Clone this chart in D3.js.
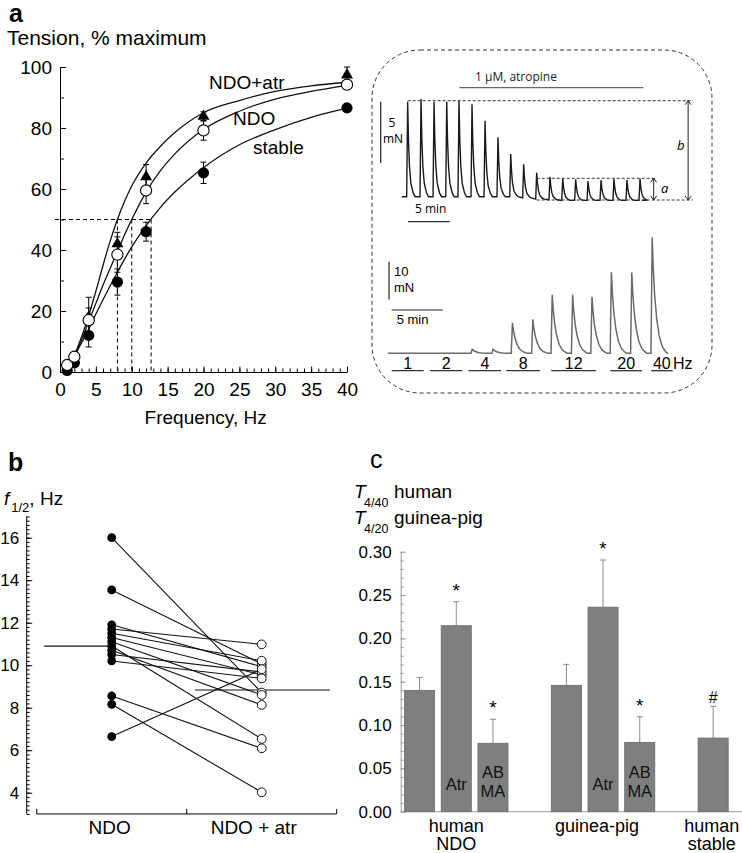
<!DOCTYPE html>
<html><head><meta charset="utf-8">
<script src="https://cdn.jsdelivr.net/npm/d3@7"></script>
<style>
body{margin:0;background:#fff}
svg{display:block;font-family:"Liberation Sans",Arial,sans-serif}
</style></head><body>
<svg id="chart" width="742" height="853"></svg>
<script>
// ================= DATA =================
// Panel a: tension-frequency
const freqs = [1, 2, 4, 8, 12, 20, 40];
const stableVals = [0.5, 3, 12, 29.5, 46, 65.3, 86.6];
const stableErr  = [0, 0, 3.8, 4.3, 3.1, 3.5, 0];
const ndoVals    = [2.3, 5, 17, 38.5, 59.5, 79.2, 94.2];
const ndoErr     = [0, 0, 4, 5.8, 4.3, 3.2, 0];
const atrVals    = [0.8, 3.8, 18, 42, 64, 83.8, 97.4];
const atrErr     = [0, 0, 6.5, 3.8, 4, 1.5, 2.6];
const curveFreqs  = [0.5, 1, 2, 3, 4, 5, 6, 7, 8, 9, 10, 12, 14, 16, 20, 25, 30, 35, 40];
const atrCurve    = [0.3, 1.5, 5.5, 11.5, 18.5, 26.5, 35, 43, 50, 56, 61, 68.5, 74, 78.5, 85, 89, 92, 93.8, 95];
const ndoCurve    = [0.3, 1.5, 5, 10.5, 16.5, 22.5, 28.5, 34, 39.5, 45, 50, 59, 66, 71.5, 79.5, 85.5, 89.5, 92, 94];
const stableCurve = [0.2, 1.9, 5.3, 9.5, 14, 19, 23.7, 28.3, 32.7, 37, 41, 48, 54, 59, 67, 74.5, 79.5, 83.5, 86.5];
const halfFreqs = [8, 10, 12.7];
const curveNames = ["NDO+atr", "NDO", "stable"];
const xTicksA = [0, 5, 10, 15, 20, 25, 30, 35, 40];
const yTicksA = [0, 20, 40, 60, 80, 100];

// Inset top trace (minutes, mN)
const topPeakTimes  = [0.71, 2.30, 3.85, 5.36, 6.82, 8.37, 9.92, 11.46, 12.98, 14.52, 16.07, 17.65, 19.17, 20.71, 22.18, 23.73, 25.27, 26.82, 28.37];
const topPeakLevels = [7.75, 7.97, 7.75, 7.75, 7.83, 7.53, 6.2, 4.84, 3.48, 2.64, 1.96, 1.63, 1.50, 1.42, 1.28, 1.36, 1.44, 1.36, 1.47];
const topBaseLevels = [0, 0, 0, 0, 0, 0, 0, 0, 0, -0.1, -0.2, -0.25, -0.3, -0.3, -0.3, -0.3, -0.3, -0.3, -0.3];
const topTraceEnd = 28.57;
const atropineSpan = [6.86, 28.76];
const levelA = [-0.27, 1.5, 16.07, 30.15];   // bottom, top, from, to
const levelB = [-0.27, 7.83, 0.71, 34.68];
// Inset bottom trace
const botPeakTimes = [8.26, 10.3, 12.2, 14.2, 16.1, 18.1, 20.0, 21.9, 23.9, 25.9];
const botPeakAmps  = [1.1, 1.1, 8.1, 9.0, 15.5, 15.5, 15.0, 21.5, 21.4, 30.8];
const botTraceEnd = 27.3;
const stimLabels = ["1", "2", "4", "8", "12", "20", "40"];
const stimSpans  = [[0.36, 3.5], [4.1, 7.3], [7.9, 11.1], [11.6, 14.9], [16.0, 20.4], [21.8, 24.9], [25.8, 27.9]];

// Panel b: f1/2 pairs
const conditionsB = ["NDO", "NDO + atr"];
const ndoF1_2 = [16.0, 13.54, 11.9, 11.7, 11.5, 11.3, 11.1, 10.9, 10.7, 10.5, 10.2, 8.55, 8.16, 6.64];
const atrF1_2 = [8.71, 10.06, 9.93, 10.98, 10.21, 9.54, 8.60, 6.53, 8.13, 9.68, 9.38, 6.09, 4.02, 9.81];
const meansB = [10.9, 8.83];
const yTicksB = [4, 6, 8, 10, 12, 14, 16];

// Panel c: bars
const barSlots  = [0, 1, 2, 4, 5, 6, 8];
const barVals   = [0.140, 0.2146, 0.079, 0.1458, 0.236, 0.080, 0.085];
const barErrs   = [0.015, 0.0277, 0.0276, 0.0242, 0.0544, 0.0296, 0.0366];
const barInner  = ["", "Atr", "AB\nMA", "", "Atr", "AB\nMA", ""];
const barMarks  = ["", "*", "*", "", "*", "*", "#"];
const groupLabels = [["human", "NDO"], ["guinea-pig"], ["human", "stable"]];
const groupSlots  = [1, 5, 8];
const yTicksC = [0, 0.05, 0.10, 0.15, 0.20, 0.25, 0.30];

// ================= DRAW =================
const svg = d3.select("#chart");
svg.append("rect").attr("width", 742).attr("height", 853).attr("fill", "#fff");

function styleAxis(g, size, color) {
  g.attr("font-family", "Liberation Sans, Arial, sans-serif").attr("font-size", size);
  g.selectAll("path,line").attr("stroke", color || "#000");
  g.selectAll("text").attr("fill", "#000");
}

// ---------- Panel a ----------
const xA = d3.scaleLinear([0, 40], [60, 347]);
const yA = d3.scaleLinear([0, 100], [372, 67]);
svg.append("text").attr("x", 9).attr("y", 22).attr("font-size", 25).attr("font-weight", "bold").text("a");
svg.append("text").attr("x", 7).attr("y", 45).attr("font-size", 21).text("Tension, % maximum");

svg.append("g").attr("transform", `translate(${xA(0)},0)`)
  .call(d3.axisLeft(yA).tickValues(d3.range(0, 101, 10)).tickSize(-4).tickSizeOuter(0).tickFormat(""))
  .call(g => g.select(".domain").remove()).call(styleAxis, 19);
svg.append("g").attr("transform", `translate(${xA(0)},0)`)
  .call(d3.axisLeft(yA).tickValues(yTicksA).tickSize(-6).tickSizeOuter(0).tickPadding(8))
  .call(styleAxis, 19);
svg.append("g").attr("transform", `translate(0,${yA(0)})`)
  .call(d3.axisBottom(xA).tickValues(d3.range(0, 41, 1)).tickSize(-3.5).tickSizeOuter(0).tickFormat(""))
  .call(g => g.select(".domain").remove()).call(styleAxis, 19);
svg.append("g").attr("transform", `translate(0,${yA(0)})`)
  .call(d3.axisBottom(xA).tickValues(xTicksA).tickSize(-5.5).tickSizeOuter(0).tickPadding(11))
  .call(styleAxis, 19);
svg.append("text").attr("x", xA(20.3)).attr("y", 424).attr("text-anchor", "middle").attr("font-size", 19).text("Frequency, Hz");

// dashed half-max guides
const dashG = svg.append("g").attr("stroke", "#000").attr("stroke-width", 1).attr("stroke-dasharray", "4,3").attr("fill", "none");
dashG.append("line").attr("x1", xA(0) - 5).attr("x2", xA(d3.max(halfFreqs))).attr("y1", yA(50)).attr("y2", yA(50));
halfFreqs.forEach(f => dashG.append("line").attr("x1", xA(f)).attr("x2", xA(f)).attr("y1", yA(50)).attr("y2", yA(0)));

// fitted curves
const lineA = d3.line().x((d, i) => xA(curveFreqs[i])).y(d => yA(d)).curve(d3.curveMonotoneX);
[atrCurve, ndoCurve, stableCurve].forEach(c => svg.append("path").attr("d", lineA(c)).attr("fill", "none").attr("stroke", "#111").attr("stroke-width", 1.3));

// error bars
function errBars(vals, errs) {
  vals.forEach((v, i) => {
    if (!errs[i]) return;
    const x = xA(freqs[i]);
    const g = svg.append("g").attr("stroke", "#000").attr("stroke-width", 1);
    g.append("line").attr("x1", x).attr("x2", x).attr("y1", yA(v - errs[i])).attr("y2", yA(v + errs[i]));
    [v - errs[i], v + errs[i]].forEach(e => g.append("line").attr("x1", x - 3).attr("x2", x + 3).attr("y1", yA(e)).attr("y2", yA(e)));
  });
}
errBars(stableVals, stableErr); errBars(ndoVals, ndoErr); errBars(atrVals, atrErr);

// markers
stableVals.forEach((v, i) => svg.append("circle").attr("cx", xA(freqs[i])).attr("cy", yA(v)).attr("r", 5.6).attr("fill", "#000"));
atrVals.forEach((v, i) => svg.append("path").attr("d", d3.symbol(d3.symbolTriangle, 62)()).attr("transform", `translate(${xA(freqs[i])},${yA(v)})`).attr("fill", "#000"));
ndoVals.forEach((v, i) => svg.append("circle").attr("cx", xA(freqs[i])).attr("cy", yA(v)).attr("r", 5.6).attr("fill", "#fff").attr("stroke", "#000").attr("stroke-width", 1.1));

// curve labels
const labelPos = [[209, 89], [233, 125], [253, 154]];
curveNames.forEach((n, i) => svg.append("text").attr("x", labelPos[i][0]).attr("y", labelPos[i][1]).attr("font-size", 19).text(n));

// ---------- Inset ----------
svg.append("rect").attr("x", 372).attr("y", 50).attr("width", 340).attr("height", 343).attr("rx", 48)
  .attr("fill", "none").attr("stroke", "#333").attr("stroke-width", 1).attr("stroke-dasharray", "4,3");

const insetFont = "Open Sans, Liberation Sans, sans-serif";
const xTop = d3.scaleLinear([0, 35], [401.7, 695.7]);
const yTop = d3.scaleLinear([0, 5], [196.7, 135.4]);
const topDecay = [[0, 1], [0.8, 0.6], [1.8, 0.32], [3.2, 0.14], [5.5, 0.04], [7.5, 0]];
const topPts = [[xTop(0), yTop(0)]];
topPeakTimes.forEach((t, i) => {
  const x = xTop(t), b = topBaseLevels[i], amp = topPeakLevels[i] - b;
  topPts.push([x - 1.0, yTop(b)]);
  topDecay.forEach(([dx, f]) => topPts.push([x + dx, yTop(b + amp * f)]));
});
topPts.push([xTop(topTraceEnd), yTop(d3.min(topBaseLevels))]);
svg.append("path").attr("d", d3.line()(topPts)).attr("fill", "none").attr("stroke", "#1a1a1a").attr("stroke-width", 1.4);

// atropine bar
svg.append("line").attr("x1", xTop(atropineSpan[0])).attr("x2", xTop(atropineSpan[1])).attr("y1", 87.7).attr("y2", 87.7).attr("stroke", "#666").attr("stroke-width", 1.3);
svg.append("text").attr("x", 516).attr("y", 81).attr("text-anchor", "middle").attr("font-family", insetFont).attr("font-size", 12).attr("fill", "#222").text("1 µM, atropine");

// scale bars top
svg.append("line").attr("x1", 380.7).attr("x2", 380.7).attr("y1", 101.7).attr("y2", 101.7 + (yTop(0) - yTop(5))).attr("stroke", "#222").attr("stroke-width", 1.2);
svg.append("text").attr("x", 392).attr("y", 127).attr("text-anchor", "middle").attr("font-family", insetFont).attr("font-size", 12).text("5");
svg.append("text").attr("x", 393).attr("y", 143).attr("text-anchor", "middle").attr("font-family", insetFont).attr("font-size", 12).text("mN");
svg.append("line").attr("x1", xTop(0.75)).attr("x2", xTop(5.75)).attr("y1", 221.7).attr("y2", 221.7).attr("stroke", "#333").attr("stroke-width", 1.2);
svg.append("text").attr("x", 415).attr("y", 213).attr("font-family", insetFont).attr("font-size", 12).text("5 min");

// a / b dashed levels and arrows
const lvG = svg.append("g").attr("stroke", "#333").attr("stroke-width", 1).attr("stroke-dasharray", "3,2").attr("fill", "none");
lvG.append("line").attr("x1", xTop(levelB[2])).attr("x2", xTop(levelB[3])).attr("y1", yTop(levelB[1])).attr("y2", yTop(levelB[1]));
lvG.append("line").attr("x1", xTop(levelA[2])).attr("x2", xTop(levelB[3])).attr("y1", yTop(levelA[0])).attr("y2", yTop(levelA[0]));
lvG.append("line").attr("x1", xTop(levelA[2])).attr("x2", xTop(levelA[3])).attr("y1", yTop(levelA[1])).attr("y2", yTop(levelA[1]));
function dblArrow(x, y1, y2) {
  const g = svg.append("g").attr("stroke", "#222").attr("stroke-width", 1).attr("fill", "none");
  g.append("line").attr("x1", x).attr("x2", x).attr("y1", y1).attr("y2", y2);
  g.append("path").attr("d", `M${x - 3},${y1 + 4}L${x},${y1}L${x + 3},${y1 + 4}`);
  g.append("path").attr("d", `M${x - 3},${y2 - 4}L${x},${y2}L${x + 3},${y2 - 4}`);
}
dblArrow(xTop(30.0), yTop(levelA[1]), yTop(levelA[0]));
dblArrow(xTop(34.1), yTop(levelB[1]), yTop(levelB[0]));
svg.append("text").attr("x", 661).attr("y", 193).attr("font-family", insetFont).attr("font-style", "italic").attr("font-size", 13).text("a");
svg.append("text").attr("x", 677).attr("y", 150).attr("font-family", insetFont).attr("font-style", "italic").attr("font-size", 13).text("b");

// bottom trace
const xBot = d3.scaleLinear([0, 10], [388, 490]);
const yBot = d3.scaleLinear([0, 10], [353.3, 315.6]);
const botDecay = [[0, 1], [1, 0.75], [2.5, 0.5], [4.5, 0.3], [7, 0.15], [10, 0.06], [13, 0.02], [15, 0]];
const botPts = [[xBot(0), yBot(0)]];
botPeakTimes.forEach((t, i) => {
  const x = xBot(t), a = botPeakAmps[i];
  botPts.push([x - 1.2, yBot(0)]);
  botDecay.forEach(([dx, f]) => botPts.push([x + dx, yBot(a * f)]));
});
botPts.push([xBot(botTraceEnd), yBot(0)]);
svg.append("path").attr("d", d3.line()(botPts)).attr("fill", "none").attr("stroke", "#6a6a6a").attr("stroke-width", 1.5);

svg.append("line").attr("x1", 389).attr("x2", 389).attr("y1", 261.7).attr("y2", 261.7 + (yBot(0) - yBot(10))).attr("stroke", "#222").attr("stroke-width", 1.2);
svg.append("text").attr("x", 394).attr("y", 276).attr("font-size", 13).text("10");
svg.append("text").attr("x", 394).attr("y", 291.5).attr("font-size", 13).text("mN");
svg.append("line").attr("x1", xBot(0.36)).attr("x2", xBot(5.36)).attr("y1", 310).attr("y2", 310).attr("stroke", "#222").attr("stroke-width", 1.2);
svg.append("text").attr("x", 396.7).attr("y", 323.5).attr("font-size", 13).text("5 min");

stimSpans.forEach((s, i) => {
  svg.append("line").attr("x1", xBot(s[0])).attr("x2", xBot(s[1])).attr("y1", 370.7).attr("y2", 370.7).attr("stroke", "#333").attr("stroke-width", 1.3);
  svg.append("text").attr("x", xBot((s[0] + s[1]) / 2)).attr("y", 369).attr("text-anchor", "middle").attr("font-size", 16).text(stimLabels[i]);
});
svg.append("text").attr("x", 673).attr("y", 369).attr("font-size", 16).text("Hz");

// ---------- Panel b ----------
svg.append("text").attr("x", 8).attr("y", 471).attr("font-size", 25).attr("font-weight", "bold").text("b");
const fLab = svg.append("text").attr("x", 4).attr("y", 505).attr("font-size", 19);
fLab.append("tspan").attr("font-style", "italic").text("f");
fLab.append("tspan").attr("font-size", 13).attr("dy", 6.5).attr("dx", 2).text("1/2");
fLab.append("tspan").attr("dy", -6.5).text(", Hz");

const yB = d3.scaleLinear([4, 16], [792.7, 537.7]);
const xB = d3.scaleBand(conditionsB, [36.7, 336.7]);
svg.append("g").attr("transform", "translate(26.7,0)")
  .call(d3.axisLeft(yB).tickValues(d3.range(3, 17.01, 0.2)).tickSize(-3).tickSizeOuter(0).tickFormat(""))
  .call(g => g.select(".domain").attr("d", `M0,${yB(3)}V${yB(17)}`)).call(styleAxis, 17);
svg.append("g").attr("transform", "translate(26.7,0)")
  .call(d3.axisLeft(yB).tickValues(yTicksB).tickSize(-5.5).tickSizeOuter(0).tickPadding(7.5))
  .call(g => g.select(".domain").remove()).call(styleAxis, 17);
const xAxB = svg.append("g").attr("transform", `translate(0,${yB(3)})`);
xAxB.append("line").attr("x1", 36.7).attr("x2", 336.7).attr("stroke", "#000");
[36.7, 186.7, 336.7].forEach(x => xAxB.append("line").attr("x1", x).attr("x2", x).attr("y1", 0).attr("y2", -5).attr("stroke", "#000"));
conditionsB.forEach((c, i) => svg.append("text").attr("x", xB(c) + xB.bandwidth() / 2 - (i ? 8 : 2)).attr("y", 833.5).attr("text-anchor", "middle").attr("font-size", 19).text(c));

const cxB = c => xB(c) + xB.bandwidth() / 2;
// mean lines
svg.append("line").attr("x1", 44.3).attr("x2", cxB("NDO")).attr("y1", yB(meansB[0])).attr("y2", yB(meansB[0])).attr("stroke", "#111").attr("stroke-width", 1.1);
svg.append("line").attr("x1", 195).attr("x2", 330).attr("y1", yB(meansB[1])).attr("y2", yB(meansB[1])).attr("stroke", "#111").attr("stroke-width", 1.1);
ndoF1_2.forEach((v, i) => svg.append("line").attr("x1", cxB("NDO")).attr("y1", yB(v)).attr("x2", cxB("NDO + atr")).attr("y2", yB(atrF1_2[i])).attr("stroke", "#111").attr("stroke-width", 1.1));
ndoF1_2.forEach(v => svg.append("circle").attr("cx", cxB("NDO")).attr("cy", yB(v)).attr("r", 4.4).attr("fill", "#000"));
atrF1_2.forEach(v => svg.append("circle").attr("cx", cxB("NDO + atr")).attr("cy", yB(v)).attr("r", 4.4).attr("fill", "#fff").attr("stroke", "#111").attr("stroke-width", 1));

// ---------- Panel c ----------
svg.append("text").attr("x", 370).attr("y", 468).attr("font-size", 25).text("c");
[["4/40", "human", 498.3], ["4/20", "guinea-pig", 524]].forEach(([sub, lab, y]) => {
  svg.append("text").attr("x", 354).attr("y", y).attr("font-size", 19).attr("font-style", "italic").text("T");
  svg.append("text").attr("x", 364).attr("y", y + 9).attr("font-size", 12.5).text(sub);
  svg.append("text").attr("x", 394).attr("y", y).attr("font-size", 19).text(lab);
});
const yC = d3.scaleLinear([0, 0.30], [811.7, 551.7]);
const xC = d3.scaleBand(d3.range(9), [401.2, 731.5]).paddingInner(0.18).paddingOuter(0.09);
svg.append("g").attr("transform", "translate(400.7,0)")
  .call(d3.axisLeft(yC).tickValues(d3.range(0, 0.3001, 0.01)).tickSize(-3).tickSizeOuter(0).tickFormat(""))
  .call(styleAxis, 17, "#9a9a9a");
svg.append("g").attr("transform", "translate(400.7,0)")
  .call(d3.axisLeft(yC).tickValues(yTicksC).tickSize(-5).tickSizeOuter(0).tickPadding(9).tickFormat(d3.format(".2f")))
  .call(g => g.select(".domain").remove()).call(styleAxis, 17, "#9a9a9a");
svg.append("line").attr("x1", 400.7).attr("x2", 742).attr("y1", yC(0)).attr("y2", yC(0)).attr("stroke", "#9a9a9a").attr("stroke-width", 1);

barVals.forEach((v, i) => {
  const x0 = xC(barSlots[i]), w = xC.bandwidth(), cx = x0 + w / 2;
  const top = yC(v + barErrs[i]);
  svg.append("line").attr("x1", cx).attr("x2", cx).attr("y1", yC(v)).attr("y2", top).attr("stroke", "#8a8a8a").attr("stroke-width", 1);
  svg.append("line").attr("x1", cx - 3).attr("x2", cx + 3).attr("y1", top).attr("y2", top).attr("stroke", "#8a8a8a").attr("stroke-width", 1);
  svg.append("rect").attr("x", x0).attr("y", yC(v)).attr("width", w).attr("height", yC(0) - yC(v))
    .attr("fill", "#7f7f7f").attr("stroke", "#6a6a6a").attr("stroke-width", 0.8);
  if (barMarks[i]) svg.append("text").attr("x", cx).attr("y", top - (barMarks[i] === "#" ? 3 : 5)).attr("text-anchor", "middle").attr("font-size", barMarks[i] === "#" ? 16 : 19).text(barMarks[i]);
  if (barInner[i]) {
    const lines = barInner[i].split("\n");
    const ys = lines.length === 1 ? [790] : [778, 796.5];
    lines.forEach((l, k) => svg.append("text").attr("x", cx).attr("y", ys[k]).attr("text-anchor", "middle").attr("font-size", 16.5).attr("fill", "#111").text(l));
  }
});
groupLabels.forEach((lines, g) => {
  const cx = xC(groupSlots[g]) + xC.bandwidth() / 2 + (g === 2 ? -1.5 : (g === 1 ? -6 : 0));
  lines.forEach((l, k) => svg.append("text").attr("x", cx).attr("y", 831.7 + k * 18.5).attr("text-anchor", "middle").attr("font-size", 18).text(l));
});
</script>
</body></html>
